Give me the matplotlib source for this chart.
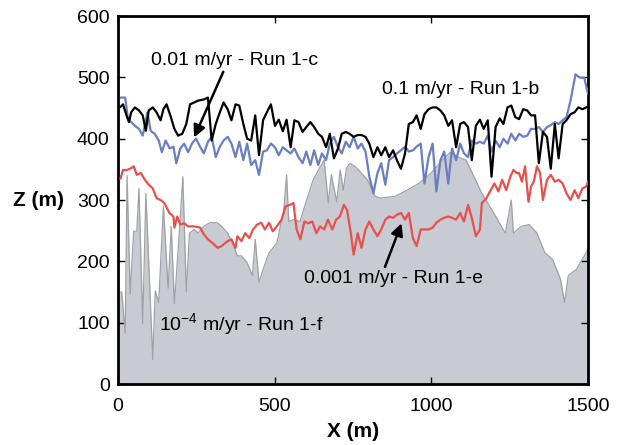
import matplotlib
matplotlib.use("Agg")
import matplotlib.pyplot as plt
import numpy as np

plt.rcParams['font.family'] = ['Liberation Sans', 'DejaVu Sans']

# surface profiles, X (m) vs Z (m)
# 0.1 m/yr - Run 1-b (black)
x_b = [8, 16, 26, 35, 42, 54, 67, 79, 89, 98, 111, 123, 136, 145, 155, 167, 180, 192, 205, 218,
       230, 243, 255, 274, 287, 299, 312, 325, 337, 350, 362, 375, 387, 400, 412, 425, 438, 450, 463, 475,
       488, 501, 513, 526, 538, 551, 563, 576, 589, 601, 614, 626, 639, 651, 664, 676, 689, 702, 714, 727,
       739, 752, 765, 777, 790, 802, 815, 828, 840, 853, 865, 878, 890, 903, 916, 928, 941, 953, 966, 978,
       991, 1004, 1016, 1029, 1041, 1054, 1066, 1079, 1092, 1104, 1117, 1129, 1142, 1155, 1167, 1180, 1192, 1205, 1218, 1230,
       1243, 1255, 1268, 1280, 1293, 1306, 1318, 1331, 1343, 1356, 1369, 1381, 1394, 1406, 1419, 1431, 1444, 1457, 1469, 1482, 1498]
z_b = [452, 456, 440, 427, 443, 451, 446, 438, 413, 446, 451, 443, 430, 448, 456, 438, 416, 405, 408, 424,
       456, 459, 462, 464, 467, 397, 424, 443, 459, 448, 430, 456, 454, 424, 400, 397, 438, 373, 430, 443,
       456, 421, 431, 412, 431, 386, 430, 427, 411, 419, 427, 419, 408, 403, 386, 408, 368, 384, 408, 411,
       408, 403, 406, 406, 403, 392, 370, 386, 373, 386, 370, 381, 365, 351, 376, 424, 427, 438, 416, 440,
       448, 451, 451, 446, 438, 421, 430, 386, 424, 427, 419, 365, 421, 431, 416, 430, 338, 419, 433, 424,
       451, 454, 435, 432, 448, 446, 438, 438, 360, 411, 403, 351, 424, 368, 424, 430, 440, 443, 451, 448, 452]

# 0.01 m/yr - Run 1-c (blue)
x_c = [10, 23, 31, 42, 54, 67, 79, 94, 104, 117, 130, 140, 152, 165, 177, 186, 199, 211, 224, 236,
       249, 262, 274, 287, 299, 312, 325, 337, 350, 362, 375, 387, 400, 412, 425, 438, 450, 463, 475, 488,
       501, 513, 526, 538, 551, 563, 576, 589, 601, 614, 626, 639, 651, 664, 676, 689, 702, 714, 727, 739,
       752, 765, 777, 790, 802, 815, 828, 840, 853, 865, 878, 890, 903, 916, 928, 941, 953, 966, 978, 991,
       1004, 1016, 1029, 1041, 1054, 1066, 1079, 1092, 1104, 1117, 1129, 1142, 1155, 1167, 1180, 1192, 1205, 1218, 1230, 1243,
       1255, 1268, 1280, 1293, 1306, 1318, 1331, 1343, 1356, 1369, 1381, 1394, 1406, 1419, 1431, 1444, 1460, 1472, 1488, 1500]
z_c = [467, 467, 435, 427, 421, 416, 405, 443, 413, 408, 397, 378, 397, 384, 387, 360, 384, 392, 378, 392,
       400, 387, 376, 395, 403, 370, 387, 397, 403, 392, 370, 395, 365, 392, 357, 365, 341, 379, 381, 392,
       386, 373, 386, 381, 376, 384, 370, 360, 379, 357, 381, 357, 376, 365, 392, 403, 386, 376, 395, 386,
       403, 384, 392, 379, 338, 311, 344, 360, 325, 365, 370, 376, 381, 387, 379, 381, 387, 392, 327, 370,
       392, 314, 365, 379, 327, 384, 365, 392, 376, 370, 397, 392, 395, 392, 405, 379, 397, 386, 400, 392,
       408, 397, 408, 403, 405, 416, 416, 419, 411, 419, 422, 427, 424, 430, 435, 462, 505, 500, 499, 473]

# 0.001 m/yr - Run 1-e (red)
x_e = [8, 16, 29, 42, 50, 60, 73, 86, 98, 111, 123, 136, 148, 164, 177, 180, 189, 199, 211, 224,
       243, 262, 274, 287, 306, 318, 331, 350, 362, 375, 381, 394, 406, 419, 431, 444, 457, 469, 482, 494,
       507, 522, 535, 548, 560, 570, 582, 595, 607, 620, 633, 645, 658, 670, 684, 696, 708, 721, 731, 743,
       752, 765, 777, 790, 802, 815, 828, 840, 853, 865, 878, 890, 903, 916, 928, 941, 953, 966, 978, 991,
       1004, 1016, 1029, 1041, 1054, 1066, 1079, 1092, 1104, 1117, 1129, 1142, 1155, 1161, 1176, 1189, 1201, 1214, 1226, 1239,
       1252, 1262, 1272, 1280, 1289, 1299, 1310, 1318, 1327, 1337, 1347, 1356, 1369, 1381, 1394, 1406, 1419, 1431, 1444, 1457,
       1469, 1482, 1494, 1500]
z_e = [335, 349, 349, 352, 355, 341, 344, 333, 325, 319, 303, 300, 295, 279, 273, 255, 273, 260, 262, 257,
       257, 255, 244, 236, 228, 222, 225, 233, 236, 222, 241, 233, 246, 238, 252, 260, 263, 252, 263, 249,
       257, 268, 290, 292, 295, 252, 236, 265, 262, 265, 246, 257, 252, 268, 252, 268, 273, 292, 284, 246,
       211, 246, 222, 252, 265, 252, 241, 252, 268, 273, 271, 276, 279, 268, 279, 238, 225, 252, 252, 252,
       255, 263, 268, 271, 273, 271, 268, 279, 265, 292, 271, 241, 252, 295, 303, 316, 327, 314, 333, 316,
       338, 349, 344, 344, 330, 355, 297, 322, 330, 355, 344, 300, 333, 341, 330, 333, 327, 311, 300, 316,
       303, 319, 322, 330]

# 10^-4 m/yr - Run 1-f (grey, filled)
x_f = [0, 12, 23, 29, 39, 50, 60, 67, 79, 89, 102, 111, 119, 130, 145, 160, 170, 180, 195, 207,
       218, 228, 243, 255, 274, 293, 316, 331, 350, 369, 381, 394, 412, 429, 438, 450, 463, 482, 507, 520,
       528, 538, 545, 560, 581, 602, 623, 645, 658, 671, 681, 698, 709, 719, 729, 740, 758, 796, 821, 840,
       866, 884, 922, 960, 997, 1035, 1060, 1086, 1111, 1136, 1161, 1186, 1211, 1236, 1255, 1262, 1287, 1312, 1337, 1362,
       1387, 1412, 1425, 1437, 1463, 1488, 1500]
z_f = [150, 150, 83, 340, 147, 249, 249, 319, 98, 311, 150, 40, 152, 133, 290, 156, 257, 131, 241, 338,
       150, 246, 252, 246, 257, 263, 263, 257, 246, 225, 209, 209, 198, 177, 236, 166, 187, 214, 230, 262,
       278, 341, 265, 268, 265, 300, 333, 354, 365, 295, 341, 297, 349, 316, 352, 360, 354, 333, 306, 303,
       305, 306, 316, 327, 343, 365, 378, 370, 365, 338, 311, 290, 268, 246, 300, 246, 257, 260, 246, 214,
       203, 171, 133, 177, 187, 209, 220]

fig = plt.figure(figsize=(6.19, 4.45), dpi=100)
ax = fig.add_axes([0.1906, 0.137, 0.7594, 0.827])

ax.fill_between(x_f, 0, z_f, color="#c8cbd1", linewidth=0, zorder=1)
ax.plot(x_f, z_f, color="#9ea2a8", linewidth=0.9, zorder=2)
ax.plot(x_e, z_e, color="#e8504f", linewidth=1.6, zorder=3)
ax.plot(x_c, z_c, color="#6a7ec2", linewidth=1.6, zorder=4)
ax.plot(x_b, z_b, color="black", linewidth=1.6, zorder=5)

ax.set_xlim(0, 1500)
ax.set_ylim(0, 600)
ax.set_xticks([0, 500, 1000, 1500])
ax.set_yticks([0, 100, 200, 300, 400, 500, 600])
ax.tick_params(direction="in", length=5, width=1, labelsize=14, top=True, right=True, pad=6)
ax.tick_params(axis="x", pad=10)
for s in ax.spines.values():
    s.set_linewidth(2)

ax.set_xlabel("X (m)", fontsize=15, fontweight="bold", labelpad=5)
ax.set_ylabel("Z (m)", fontsize=15, fontweight="bold", rotation=0, labelpad=8, va="center")
ax.yaxis.set_label_coords(-0.17, 0.5)

# labels and arrows
arrow = dict(arrowstyle="-|>", color="black", lw=1.8, mutation_scale=18, shrinkA=0, shrinkB=0)
ax.text(371, 528, "0.01 m/yr - Run 1-c", fontsize=14, ha="center", va="center")
ax.annotate("", xy=(243, 402), xytext=(336, 509), arrowprops=arrow)
ax.text(1092, 481, "0.1 m/yr - Run 1-b", fontsize=14, ha="center", va="center")
ax.text(880, 172, "0.001 m/yr - Run 1-e", fontsize=14, ha="center", va="center")
ax.annotate("", xy=(905, 262), xytext=(852, 191), arrowprops=arrow)
ax.text(130, 96, r"10$^{\mathregular{-4}}$ m/yr - Run 1-f", fontsize=14, ha="left", va="center")

fig.savefig("out.png", dpi=100)
